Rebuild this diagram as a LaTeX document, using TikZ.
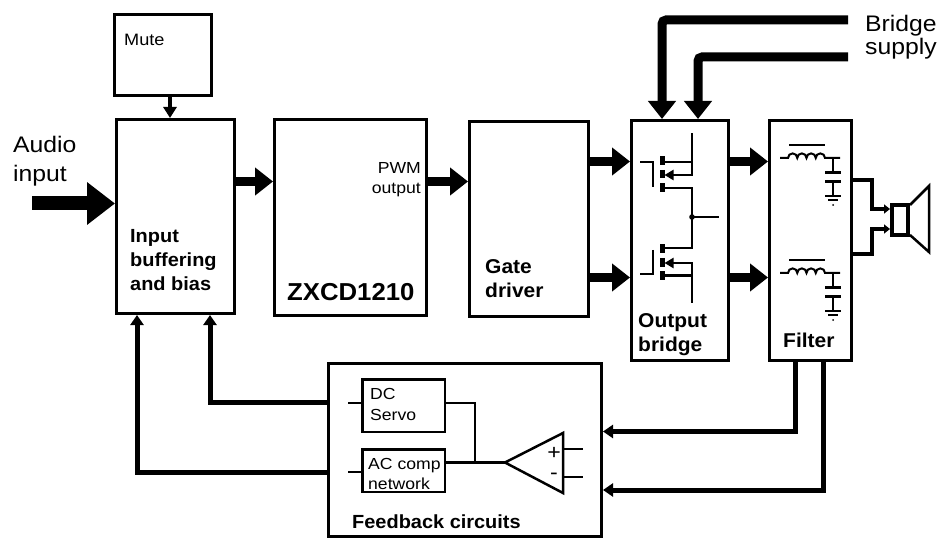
\documentclass[tikz,border=0pt]{standalone}
\usepackage{fontspec}
\setmainfont{Liberation Sans}
\newfontfamily\rgf{Liberation Sans}[FakeStretch=1.1]
\newfontfamily\bdf{Liberation Sans}[FakeStretch=1.05]
\usetikzlibrary{arrows.meta}
\tikzset{
  blk/.style={draw, line width=3pt, inner sep=0pt},
  sub/.style={draw, line width=2.5pt, inner sep=0pt},
  fat/.style={line width=9pt, -{Triangle[length=18pt,width=27pt]}},
  fbk/.style={line width=5pt, -{Triangle[length=10pt,width=13pt]}},
  wire/.style={line width=4pt, -{Triangle[length=6pt,width=9pt]}},
  thin/.style={line width=2.5pt},
  comp/.style={line width=2pt},
  txt/.style={inner sep=0pt, anchor=base west},
  rtxt/.style={inner sep=0pt, anchor=base east},
  big/.style={font=\rgf\fontsize{22.5}{26}\selectfont},
  sml/.style={font=\rgf\fontsize{16}{19}\selectfont},
  sgn/.style={font=\rgf\fontsize{21}{24}\selectfont},
  bld/.style={font=\bdf\bfseries\fontsize{19}{23}\selectfont},
  bldb/.style={font=\bdf\bfseries\fontsize{20}{24}\selectfont},
}
\begin{document}
\begin{tikzpicture}[x=1pt,y=-1pt]
\useasboundingbox (0,0) rectangle (943,540);

% blocks
\node[blk, minimum width=96.5pt, minimum height=81.5pt] (mute) at (162.75,55.25) {};
\node[blk, minimum width=118pt, minimum height=194pt] (inp) at (175.5,216.5) {};
\node[blk, minimum width=152pt, minimum height=196pt] (zx) at (350.5,217.5) {};
\node[blk, minimum width=119pt, minimum height=195pt] (gate) at (529,219) {};
\node[blk, minimum width=97pt, minimum height=240pt] (br) at (680,240.5) {};
\node[blk, minimum width=82pt, minimum height=240pt] (flt) at (810.5,240.5) {};
\node[blk, minimum width=273pt, minimum height=173pt] (fb) at (465,450) {};
\node[sub, minimum width=82.5pt, minimum height=52.5pt] (dcs) at (403.5,405.5) {};
\node[sub, minimum width=82.5pt, minimum height=42.5pt] (acc) at (403.5,470.5) {};
\node[draw, line width=4pt, inner sep=0pt, minimum width=16pt, minimum height=30pt] (spk) at (900,220) {};

% texts
\node[txt, font=\rgf\fontsize{16.5}{19}\selectfont] (tmute) at (124,46) {Mute};
\node[txt, big] (taud1) at (13,153) {Audio};
\node[txt, big] (taud2) at (13,182) {input};
\node[txt, bld] (tin1) at (130,243) {Input};
\node[txt, bld] (tin2) at (130,267) {buffering};
\node[txt, bld] (tin3) at (130,290.5) {and bias};
\node[rtxt, sml] (tpwm1) at (421,174) {PWM};
\node[rtxt, sml] (tpwm2) at (421,194) {output};
\node[txt, font=\bdf\bfseries\fontsize{24.5}{28}\selectfont] (tzx) at (287,301) {ZXCD1210};
\node[txt, bldb] (tg1) at (485,273) {Gate};
\node[txt, bldb] (tg2) at (485,298) {driver};
\node[txt, bldb] (tb1) at (638,327) {Output};
\node[txt, bldb] (tb2) at (638,351) {bridge};
\node[txt, bldb] (tf) at (783,347) {Filter};
\node[txt, big] (tbs1) at (865,32) {Bridge};
\node[txt, big] (tbs2) at (865,55) {supply};
\node[txt, sml] (tdc1) at (370,399) {DC};
\node[txt, sml] (tdc2) at (370,420) {Servo};
\node[txt, sml] (tac1) at (368,469) {AC comp};
\node[txt, sml] (tac2) at (368,489) {network};
\node[txt, bld] (tfb) at (352,528) {Feedback circuits};
\node[inner sep=0pt, sgn] (tplus) at (554,453) {+};
\node[inner sep=0pt, sgn] (tminus) at (554,476) {-};

% main signal path
\coordinate (ain) at (32,203.5);
\draw[line width=14pt, -{Triangle[length=28pt,width=41pt]}] (ain) -- (inp.west |- ain);
\draw[line width=4pt, -{Triangle[length=11pt,width=13pt]}] (mute.south -| 170,0) -- (inp.north -| 170,0);
\draw[fat] (inp.east |- 0,181.5) -- (zx.west |- 0,181.5);
\draw[fat] (zx.east |- 0,181.5) -- (gate.west |- 0,181.5);
\draw[fat] (gate.east |- 0,161.5) -- (br.west |- 0,161.5);
\draw[fat] (gate.east |- 0,277.5) -- (br.west |- 0,277.5);
\draw[fat] (br.east |- 0,161.5) -- (flt.west |- 0,161.5);
\draw[fat] (br.east |- 0,277.5) -- (flt.west |- 0,277.5);

% bridge supply
\coordinate (bs1) at (848,20);
\coordinate (bs2) at (848,57);
\draw[fat, rounded corners=4pt] (bs1) -- (662,20) -- (br.north -| 662,0);
\draw[fat, rounded corners=4pt] (bs2) -- (698,57) -- (br.north -| 698,0);

% speaker wiring
\draw[wire] (flt.east |- 0,180) -- (872,180) -- (872,209) -- (spk.west |- 0,209);
\draw[wire] (flt.east |- 0,254) -- (872,254) -- (872,229) -- (spk.west |- 0,229);
\draw[line width=2.5pt, line join=miter] (910,205) -- (929,186) -- (929,252) -- (910,235);

% feedback loops
\draw[fbk] (flt.south -| 795,0) -- (795,431.5) -- (fb.east |- 0,431.5);
\draw[fbk] (flt.south -| 823,0) -- (823,490) -- (fb.east |- 0,490);
\draw[fbk] (fb.west |- 0,472) -- (137,472) -- (inp.south -| 137,0);
\draw[fbk] (fb.west |- 0,402) -- (210,402) -- (inp.south -| 210,0);

% feedback internals
\coordinate (oatip) at (505,462.5);
\draw[thin] (348,403) -- (dcs.west |- 0,403);
\draw[thin] (348,472) -- (acc.west |- 0,472);
\draw[thin] (dcs.east |- 0,403) -- (475,403) -- (475,462.5);
\draw[thin] (acc.east |- 0,462.5) -- (oatip);
\draw[thin, line join=miter] (oatip) -- (563,433) -- (563,493) -- cycle;
\draw[thin] (563,449) -- (583,449);
\draw[thin] (563,477) -- (583,477);

% output bridge MOSFETs
\begin{scope}[line width=2.5pt]
  % upper
  \draw (640,162) -- (653,162) -- (653,187.5);
  \draw[line width=5pt] (662,156.5) -- (662,165.5) (662,170) -- (662,178.5) (662,183.5) -- (662,192);
  \draw (662,162) -- (692,162);
  \draw[{Triangle[length=9pt,width=10pt]}-] (664.5,175) -- (692,175) -- (692,133);
  \draw (662,188) -- (692,188) -- (692,217);
  \fill (692,217) circle (2.8pt);
  \draw (692,217) -- (719,217);
  % lower
  \draw (662,248) -- (692,248) -- (692,217);
  \draw[line width=5pt] (662,244.5) -- (662,253) (662,258) -- (662,267) (662,271.5) -- (662,280);
  \draw[{Triangle[length=9pt,width=10pt]}-] (664.5,263) -- (692,263) -- (692,303);
  \draw (662,275.5) -- (692,275.5);
  \draw (653,250) -- (653,274) -- (640,274);
\end{scope}

% filter LC sections
\foreach \dy in {0,115} {
  \begin{scope}[shift={(0,\dy)}]
    \draw[comp] (780,158) -- (788,158)
      arc[start angle=180,end angle=0,radius=4.625pt]
      arc[start angle=180,end angle=0,radius=4.625pt]
      arc[start angle=180,end angle=0,radius=4.625pt]
      arc[start angle=180,end angle=0,radius=4.625pt] -- (840,158);
    \draw[comp] (789,145) -- (825,145);
    \draw[comp] (833,158) -- (833,173) (833,182) -- (833,196);
    \draw[line width=3pt] (825,173) -- (841,173) (825,182) -- (841,182);
    \draw[comp] (825,196) -- (841,196) (828,200) -- (838,200);
    \fill (833,205) circle (1pt);
  \end{scope}
}
\end{tikzpicture}
\end{document}
